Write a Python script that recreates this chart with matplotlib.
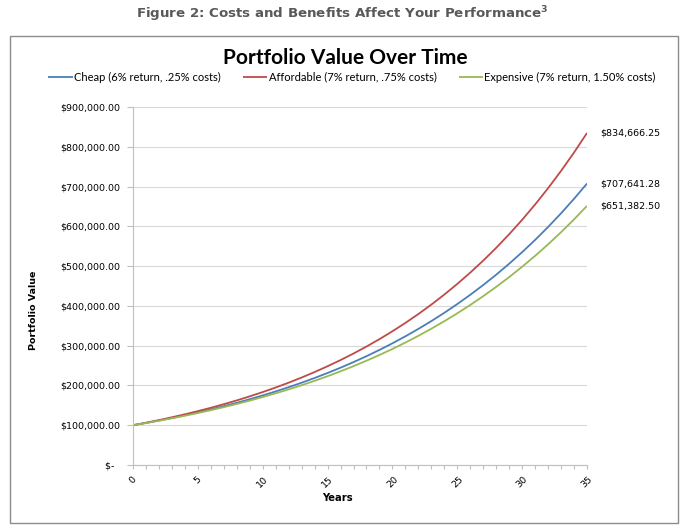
import matplotlib
matplotlib.use("Agg")
import matplotlib.pyplot as plt
from matplotlib.patches import Rectangle
from matplotlib.ticker import MultipleLocator, FuncFormatter

years = list(range(36))
cheap = [100000, 105750, 111831, 118261, 125061, 132252, 139856, 147898, 156402, 165395,
         174906, 184963, 195598, 206845, 218738, 231316, 244617, 258682, 273556, 289286,
         305920, 323510, 342112, 361783, 382586, 404585, 427848, 452450, 478465, 505977,
         535071, 565837, 598373, 632779, 669164, 707641]
affordable = [100000, 106250, 112891, 119946, 127443, 135408, 143871, 152863, 162417, 172568,
              183353, 194813, 206989, 219926, 233671, 248275, 263793, 280280, 297797, 316409,
              336185, 357196, 379521, 403241, 428444, 455222, 483673, 513903, 546021, 580148,
              616407, 654932, 695866, 739357, 785567, 834666]
expensive = [100000, 105500, 111303, 117424, 123882, 130696, 137884, 145468, 153469, 161910,
             170814, 180209, 190121, 200577, 211609, 223248, 235526, 248480, 262147, 276565,
             291776, 307823, 324754, 342615, 361459, 381339, 402313, 424440, 447784, 472412,
             498395, 525807, 554726, 585236, 617424, 651382]
series_labels = ["Cheap (6% return, .25% costs)",
                 "Affordable (7% return, .75% costs)",
                 "Expensive (7% return, 1.50% costs)"]
end_labels = ["$707,641.28", "$834,666.25", "$651,382.50"]
colors = ["#4a7ebb", "#be4b48", "#98b954"]

fig = plt.figure(figsize=(6.85, 5.31), dpi=100)
fig.patch.set_facecolor("white")

# chart border
fig.patches.append(Rectangle((10/685, 1-523/531), 668/685, 487/531, transform=fig.transFigure,
                             fill=False, edgecolor="#8c8c8c", linewidth=1.0))

fig.text(0.5, 1-14/531, "Figure 2: Costs and Benefits Affect Your Performance$^{\\mathbf{3}}$",
         ha="center", va="center", fontsize=9.6, fontweight="bold", color="#58595b",
         family="DejaVu Sans")
fig.text(345/685, 1-58/531, "Portfolio Value Over Time", ha="center", va="center",
         fontsize=15, fontweight="bold", family="Lato", color="black")

ax = fig.add_axes([133/685, 1-465/531, 454/685, 358/531])
lines = []
for vals, c, lab in zip([cheap, affordable, expensive], colors, series_labels):
    l, = ax.plot(years, vals, color=c, linewidth=1.3, label=lab, solid_capstyle="butt")
    lines.append(l)
for vals, txt in zip([cheap, affordable, expensive], end_labels):
    ax.annotate(txt, xy=(years[-1], vals[-1]), xytext=(9.5, 0), textcoords="offset points",
                ha="left", va="center", fontsize=6.8, family="DejaVu Sans",
                annotation_clip=False)

ax.set_xlim(0, 35)
ax.set_ylim(0, 900000)
ax.yaxis.set_major_locator(MultipleLocator(100000))
ax.xaxis.set_major_locator(MultipleLocator(5))
ax.xaxis.set_minor_locator(MultipleLocator(1))

def yfmt(v, pos):
    if v == 0:
        return "$-  "
    return "${:,.2f}".format(v)
ax.yaxis.set_major_formatter(FuncFormatter(yfmt))

ax.grid(axis="y", color="#d9d9d9", linewidth=0.8)
ax.set_axisbelow(True)
for s in ["top", "right"]:
    ax.spines[s].set_visible(False)
for s in ["left", "bottom"]:
    ax.spines[s].set_color("#bfbfbf")
    ax.spines[s].set_linewidth(0.8)
ax.tick_params(axis="both", which="both", color="#bfbfbf", width=0.8, direction="out")
ax.tick_params(axis="y", length=4, labelsize=6.8, pad=5)
ax.tick_params(axis="x", which="major", length=3, labelsize=6.8, pad=4)
ax.tick_params(axis="x", which="minor", length=3)
for t in ax.get_xticklabels():
    t.set_rotation(45)
    t.set_ha("center")
    t.set_va("top")

ax.set_ylabel("Portfolio Value", fontsize=6.8, fontweight="bold")
ax.yaxis.set_label_coords(-(133-34)/454, (465-310)/358)
ax.set_xlabel("Years", fontsize=7.2, fontweight="bold")
ax.xaxis.set_label_coords((337-133)/454, -(498-465)/358)
ax.xaxis.label.set_va("center")
ax.yaxis.label.set_va("center")

fig.legend(handles=lines, loc="center", bbox_to_anchor=(352/685, 1-77/531), ncol=3,
           frameon=False, prop={"family": "Lato", "size": 8.0}, handlelength=2.2,
           handletextpad=0.1, columnspacing=2.0)

fig.savefig("out.png", dpi=100)
